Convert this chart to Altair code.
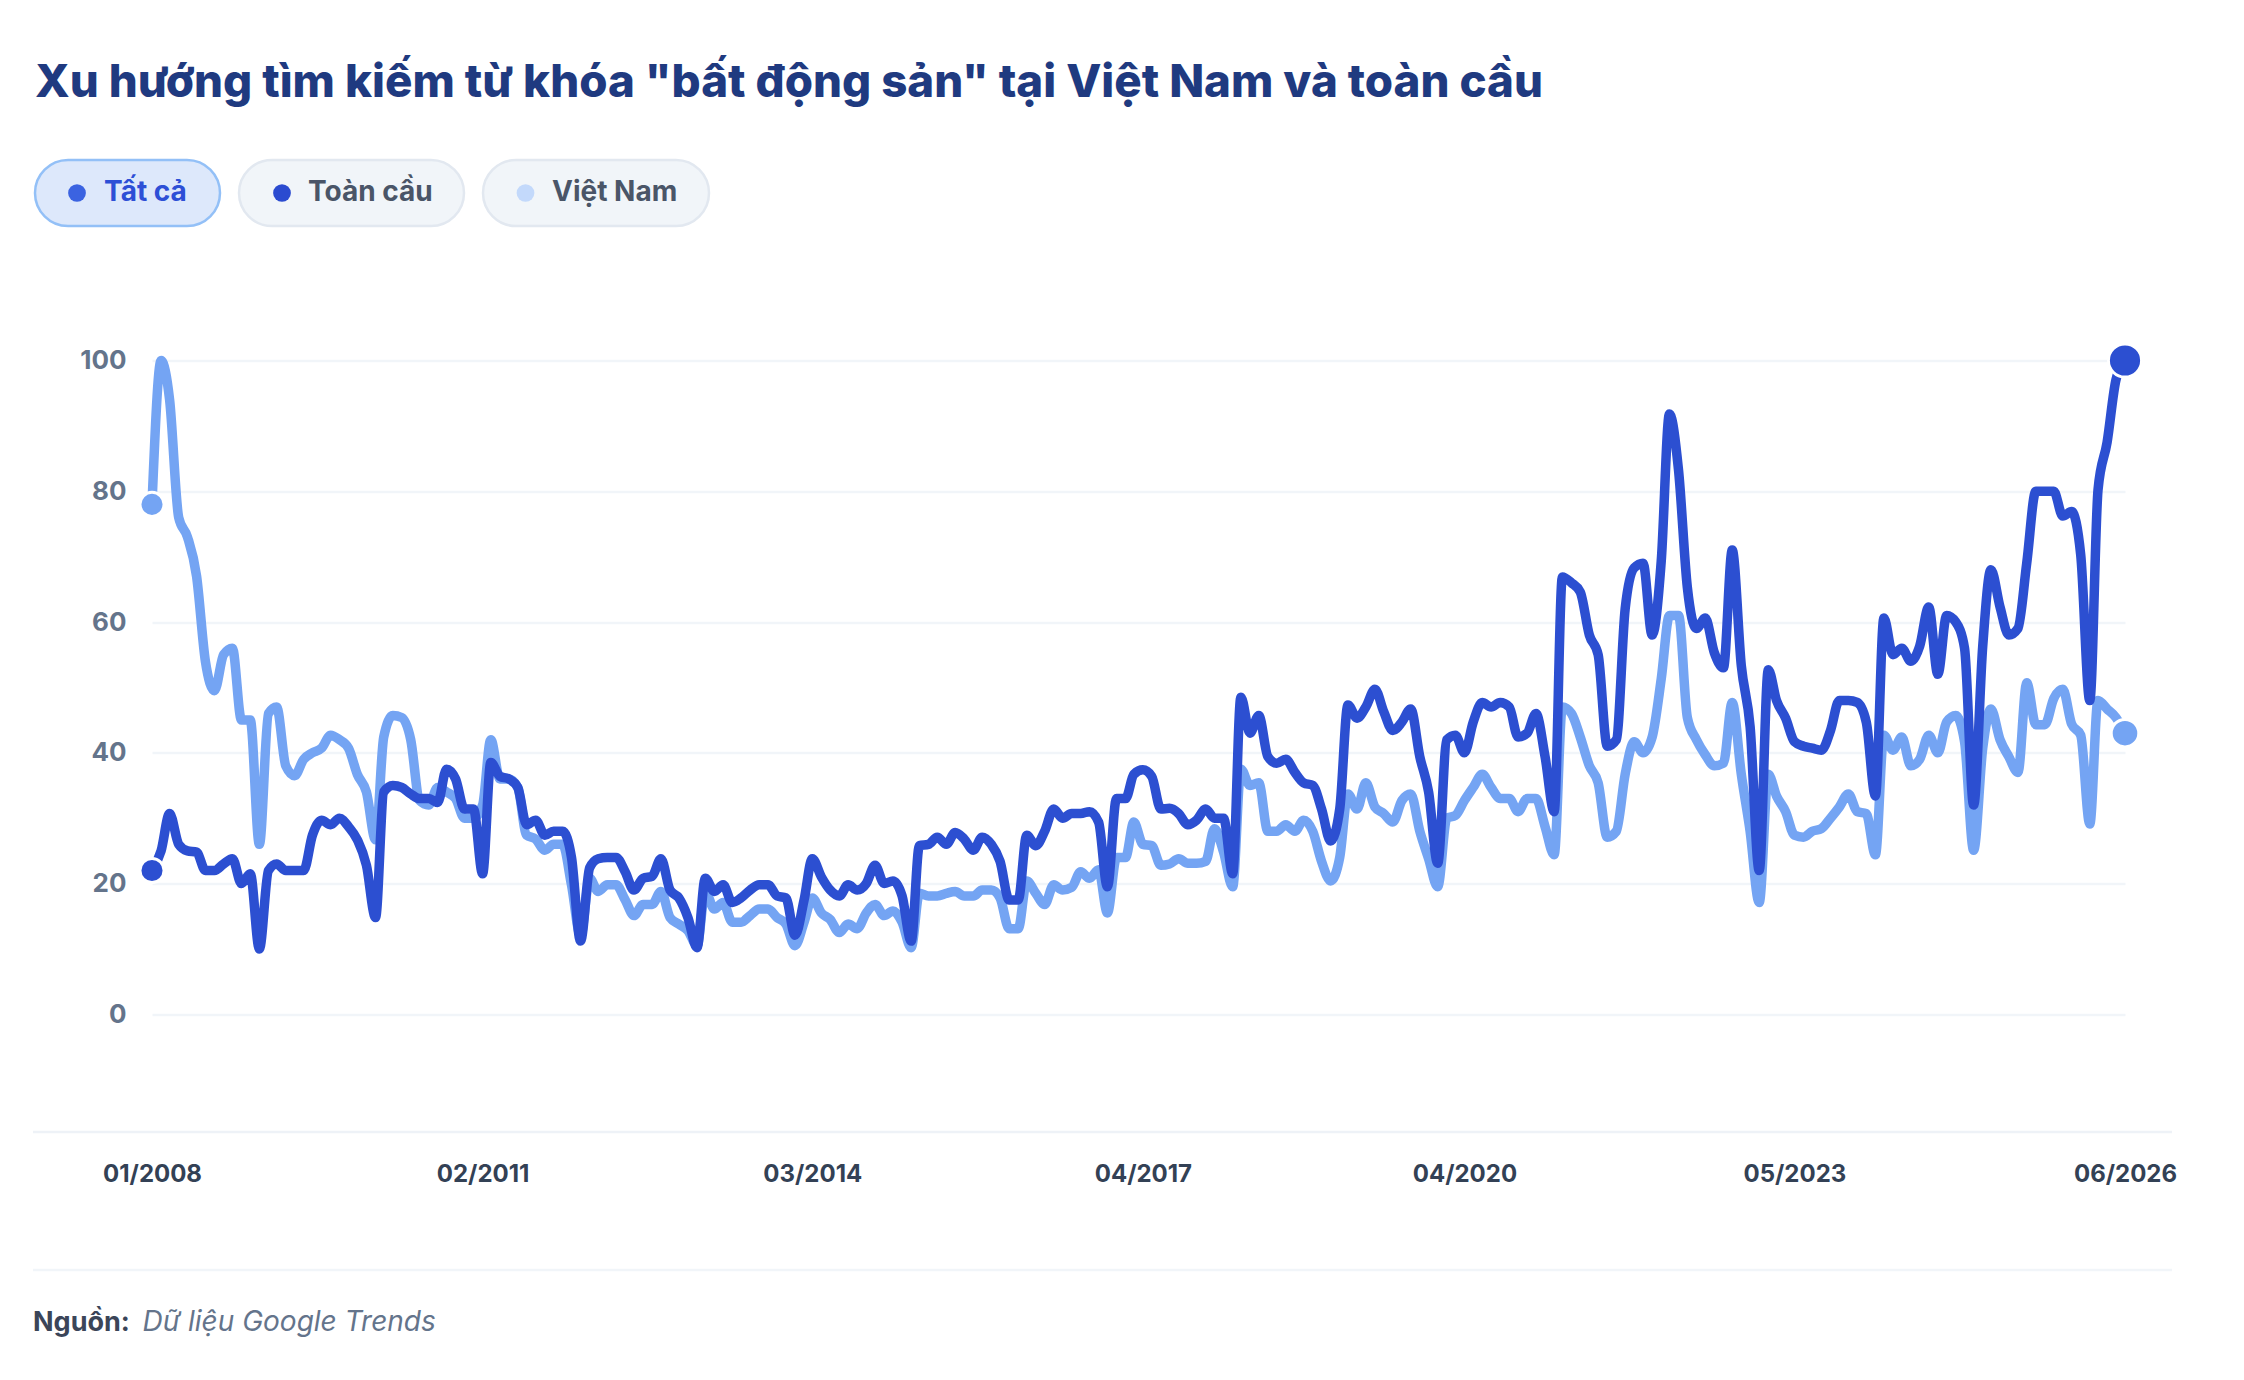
import altair as alt
import pandas as pd

# ---------------- data ----------------
title_text = 'Xu hướng tìm kiếm từ khóa "bất động sản" tại Việt Nam và toàn cầu'
series_names = ["Toàn cầu", "Việt Nam"]
legend_labels = ["Tất cả", "Toàn cầu", "Việt Nam"]
source_label = "Nguồn:"
source_text = "Dữ liệu Google Trends"
start_month = "2008-01-01"
x_tick_months = [(2008, 1), (2011, 2), (2014, 3), (2017, 4), (2020, 4), (2023, 5), (2026, 6)]
y_ticks = [0, 20, 40, 60, 80, 100]

toan_cau = [
    22, 25, 30.7, 26, 25, 24.8, 22, 22, 23, 23.8,
    20, 21.5, 10, 22, 23, 22, 22, 22, 27.4, 29.7,
    29, 30, 28.7, 26.7, 22.8, 14.8, 34, 35, 34.7, 33.7,
    33, 33, 32.4, 37.5, 36, 31.4,
    31.4,
    21.5, 38.5, 36.4, 36, 34.7, 29, 29.7, 27.4, 28, 28,
    24, 11.2, 22.4, 23.8, 24, 24, 21.8, 19, 20.8, 21.1,
    23.8, 19, 17.8, 14.8, 10.2, 20.8, 18.8, 19.8, 17.1, 17.8,
    19, 19.8, 19.8, 18.1, 17.8, 12.1, 17.5, 23.8, 21, 19,
    18.1, 19.8, 19, 20, 22.8, 20, 20.4, 18.1, 11.2, 25.8,
    26, 27.1, 26, 27.8, 26.8, 25.1, 27.1, 26, 23.4, 17.5,
    17.5, 27.4, 25.8, 28, 31.4, 30, 30.7, 30.7, 31, 29.4,
    19.5,
    33,
    33, 36.7, 37.4, 36.4, 31.4, 31.5, 30.7, 29, 29.7, 31.4,
    30, 30, 21.5, 48.5, 43, 45.7, 39.4, 38.4, 39, 37,
    35.4, 35, 31.4, 26.5, 31.4, 47.3, 45.3, 47, 49.7, 46.3,
    43.4, 44.7, 46.7, 39.4, 34, 23.1, 42, 42.7, 40, 44.7,
    47.7, 47, 47.7,
    47, 42.4, 43, 46, 39.4, 31, 66.9, 66, 64.6, 58,
    55, 41, 42, 62, 68.3, 69, 58, 69.3, 91.8, 83.2,
    65.3, 59, 60.6, 55.3, 53, 71, 53.3, 44, 22, 52.7,
    48, 45.3, 41.7, 41, 40.7,
    40.4, 43.4, 48, 48, 47.7, 44.7, 33.4, 60.6, 55, 56,
    54, 56.3, 62.3, 52, 61, 60, 56, 32, 56.3, 68,
    62.3, 58, 59, 69, 80, 80, 80, 76.2, 76.9, 70.3,
    48, 80.2, 87.5, 97, 100,
]

viet_nam = [
    78, 100, 94, 76, 73, 67, 54, 49.5, 55, 56,
    45, 45, 26, 46, 47, 38, 36.5, 39, 40, 40.7,
    42.7, 42, 40.7, 36.7, 34, 26.7, 42.4, 45.7, 45.4, 42,
    32.7, 32, 34.7, 34, 33, 30,
    30,
    32, 42, 36, 36, 34.7, 27.4, 26.8, 25.1, 26, 26,
    19.8, 12, 20.8, 18.8, 19.8, 19.8, 17.5, 15.1, 16.8, 16.8,
    18.8, 14.8, 13.8, 12.8, 10.5, 18.8, 16.1, 17.1, 14.1, 14.1,
    15.1, 16.1, 16.1, 14.8, 13.8, 10.5, 14.1, 17.8, 15.5, 14.5,
    12.5, 13.8, 13.1, 15.5, 16.8, 15.1, 15.8, 14.1, 10.2, 18.5,
    18.1, 18.1, 18.5, 18.8, 18.1, 18.1, 19, 19, 17.8, 13.1,
    13.1, 20.4, 18.5, 16.8, 19.8, 19, 19.4, 21.8, 20.8, 22.1,
    15.5,
    24,
    24, 29.4, 26, 25.8, 22.8, 23, 23.8, 23.1, 23.1, 23.4,
    28.4, 24.8, 19.5, 37.5, 35, 35.4, 28, 28, 29, 28,
    29.7, 28, 23.4, 20.4, 24, 33.7, 31.4, 35.4, 31.7, 30.7,
    29.4, 32.7, 33.7, 28, 23.8, 19.5, 30, 30.4, 32.7, 34.7,
    36.7, 34.7, 33,
    33, 31, 33, 33, 28.7, 24.4, 47, 46, 42.4, 38,
    35.4, 27.1, 28, 36.7, 41.7, 40, 42.4, 51.3, 61, 61,
    45.4, 42, 39.7, 38, 38.4, 47.7, 36.7, 28, 17.1, 36.7,
    33.4, 31, 27.4, 27.1, 28,
    28.4, 30, 31.7, 33.7, 31, 30.7, 24.4, 42.7, 40.4, 42.4,
    38, 39, 42.7, 40, 44.7, 45.7, 41.7, 25.1, 40.7, 46.7,
    42, 39.4, 37, 50.7, 44.3, 44.3, 48.3, 49.7, 44.4, 42.7,
    29.1, 48, 46.7, 45.4, 43,
]

assert len(toan_cau) == len(viet_nam), (len(toan_cau), len(viet_nam))

# ---------------- styles / layout ----------------
DARK = "#2c4fd1"
LIGHT = "#74a4f3"
FONT = "Inter"
PLOT_W = 1973
PLOT_H = 771.5
LINE_W = 9.5

pill_x0 = [-117, 87, 331]
pill_x1 = [68, 312, 557]
pill_dot_x = [-75, 130, 373.5]
pill_text_x = [-48, 156, 400]
pill_fill = ["#dde8fb", "#f1f5f9", "#f1f5f9"]
pill_stroke = ["#93c0f7", "#e2e8f0", "#e2e8f0"]
pill_dot_color = ["#3b63e1", "#2b4bd0", "#c3d9fb"]
pill_text_color = ["#2d4fd6", "#4a5568", "#4a5568"]

months = pd.date_range(start_month, periods=len(toan_cau), freq="MS")
df = pd.DataFrame({
    "date": list(months) * 2,
    "value": toan_cau + viet_nam,
    "series": [series_names[0]] * len(toan_cau) + [series_names[1]] * len(viet_nam),
})

start_df = pd.DataFrame({"date": [months[0]] * 2,
                         "value": [toan_cau[0], viet_nam[0]],
                         "series": series_names})
end_dark = pd.DataFrame({"date": [months[-1]], "value": [toan_cau[-1]], "series": [series_names[0]]})
end_light = pd.DataFrame({"date": [months[-1]], "value": [viet_nam[-1]], "series": [series_names[1]]})

color_scale = alt.Scale(domain=series_names, range=[DARK, LIGHT])

x_enc = alt.X(
    "date:T",
    title=None,
    axis=alt.Axis(
        values=[alt.DateTime(year=y, month=m, date=1) for y, m in x_tick_months],
        format="%m/%Y",
        grid=False, domain=False, ticks=False, tickSize=0,
        labelFont=FONT, labelFontSize=24, labelFontWeight=700, labelColor="#334155",
        labelPadding=30, labelFlush=False, labelOverlap=False,
    ),
)
y_enc = alt.Y(
    "value:Q",
    title=None,
    scale=alt.Scale(domain=[-18, 100], nice=False, zero=False),
    axis=alt.Axis(
        values=y_ticks, grid=True, gridColor="#f1f5f9", gridWidth=2.5,
        domain=False, ticks=False, tickSize=0,
        labelFont=FONT, labelFontSize=26, labelFontWeight=700, labelColor="#64748b",
        labelPadding=26,
    ),
)
col = alt.Color("series:N", scale=color_scale, legend=None)

line_vn = alt.Chart(df).transform_filter(alt.datum.series == series_names[1]).mark_line(
    strokeWidth=LINE_W, interpolate="monotone", strokeCap="round", strokeJoin="round"
).encode(x=x_enc, y=y_enc, color=col)

line_tc = alt.Chart(df).transform_filter(alt.datum.series == series_names[0]).mark_line(
    strokeWidth=LINE_W, interpolate="monotone", strokeCap="round", strokeJoin="round"
).encode(x=x_enc, y=y_enc, color=col)

pts_start = alt.Chart(start_df).mark_circle(size=580, opacity=1, stroke="white", strokeWidth=3).encode(
    x=x_enc, y=y_enc, color=col)
pts_end_light = alt.Chart(end_light).mark_circle(size=760, opacity=1, stroke="white", strokeWidth=3).encode(
    x=x_enc, y=y_enc, color=col)
pts_end_dark = alt.Chart(end_dark).mark_circle(size=1100, opacity=1, stroke="white", strokeWidth=3).encode(
    x=x_enc, y=y_enc, color=col)

one = pd.DataFrame({"k": [0]})

title_layer = alt.Chart(pd.DataFrame({"t": [title_text]})).mark_text(
    align="left", baseline="alphabetic", font=FONT, fontSize=45.7, fontWeight=800, color="#1f3a80"
).encode(text="t:N", x=alt.value(-117), y=alt.value(-263.5))

pill_layers = []
for i, lab in enumerate(legend_labels):
    d = pd.DataFrame({"label": [lab]})
    pill_layers.append(
        alt.Chart(d).mark_rect(cornerRadius=33, fill=pill_fill[i], stroke=pill_stroke[i], strokeWidth=2.5)
        .encode(x=alt.value(pill_x0[i]), x2=alt.value(pill_x1[i]), y=alt.value(-200.5), y2=alt.value(-134.5))
    )
    pill_layers.append(
        alt.Chart(d).mark_circle(size=314, opacity=1, color=pill_dot_color[i])
        .encode(x=alt.value(pill_dot_x[i]), y=alt.value(-167.5))
    )
    pill_layers.append(
        alt.Chart(d).mark_text(align="left", baseline="middle", font=FONT, fontSize=28, fontWeight=700,
                               color=pill_text_color[i])
        .encode(text="label:N", x=alt.value(pill_text_x[i]), y=alt.value(-167.5))
    )

bottom_rule = alt.Chart(one).mark_rule(color="#eef2f7", strokeWidth=2.5).encode(
    x=alt.value(-119), x2=alt.value(2020), y=alt.value(PLOT_H))
footer_rule = alt.Chart(one).mark_rule(color="#f1f5f9", strokeWidth=2.5).encode(
    x=alt.value(-119), x2=alt.value(2020), y=alt.value(909.5))

src_label = alt.Chart(pd.DataFrame({"t": [source_label]})).mark_text(
    align="left", baseline="middle", font=FONT, fontSize=27, fontWeight=700, color="#3b4558"
).encode(text="t:N", x=alt.value(-119), y=alt.value(962.5))
src_text = alt.Chart(pd.DataFrame({"t": [source_text]})).mark_text(
    align="left", baseline="middle", font=FONT, fontSize=28, fontStyle="italic", fontWeight=400, color="#64748b"
).encode(text="t:N", x=alt.value(-9.4), y=alt.value(962.5))

chart = alt.layer(
    line_vn, line_tc, pts_start, pts_end_light, pts_end_dark,
    bottom_rule, footer_rule, title_layer, *pill_layers, src_label, src_text,
).properties(
    width=PLOT_W, height=PLOT_H,
    autosize=alt.AutoSizeParams(type="none"),
    padding={"left": 144, "top": 352.5, "right": 111, "bottom": 230},
    background="white",
).configure_view(stroke=None)

chart.save("out.html", embed_options={"renderer": "svg", "actions": False})
